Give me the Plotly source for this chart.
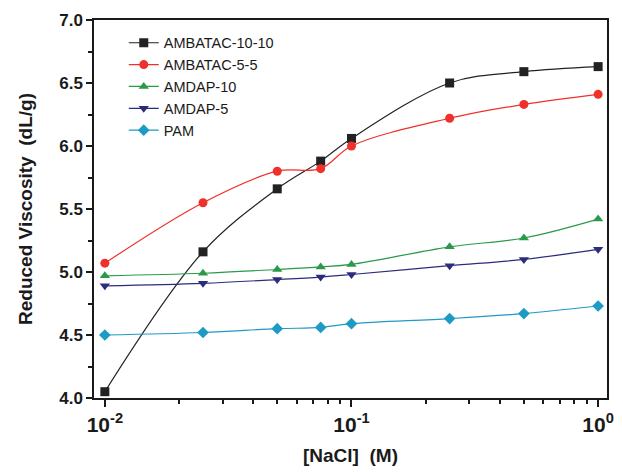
import plotly.graph_objects as go

# NaCl concentration (M)
nacl = [0.01, 0.025, 0.05, 0.075, 0.1, 0.25, 0.5, 1.0]

# Reduced viscosity (dL/g) for each polymer
ambatac_10_10 = [4.05, 5.16, 5.66, 5.88, 6.06, 6.50, 6.59, 6.63]
ambatac_5_5 = [5.07, 5.55, 5.80, 5.82, 6.00, 6.22, 6.33, 6.41]
amdap_10 = [4.97, 4.99, 5.02, 5.04, 5.06, 5.20, 5.27, 5.42]
amdap_5 = [4.89, 4.91, 4.94, 4.96, 4.98, 5.05, 5.10, 5.18]
pam = [4.50, 4.52, 4.55, 4.56, 4.59, 4.63, 4.67, 4.73]

series = [
    ("AMBATAC-10-10", ambatac_10_10, "#222222", "square"),
    ("AMBATAC-5-5", ambatac_5_5, "#f0302a", "circle"),
    ("AMDAP-10", amdap_10, "#2a9a4a", "triangle-up"),
    ("AMDAP-5", amdap_5, "#2c2c7c", "triangle-down"),
    ("PAM", pam, "#1f9ac4", "diamond"),
]

fig = go.Figure()
for name, vals, color, symbol in series:
    fig.add_trace(go.Scatter(
        x=nacl, y=vals, name=name, mode="lines+markers",
        line=dict(color=color, width=1.2, shape="spline", smoothing=1.0),
        marker=dict(symbol=symbol, size=9, color=color),
    ))

font_family = "Liberation Sans, Arial, sans-serif"
axis_font = dict(family=font_family, size=17, color="#1a1a1a")
title_font = dict(family=font_family, size=19, color="#1a1a1a")

minor_x = [k * 10 ** e for e in (-2, -1) for k in range(2, 10)]

fig.update_xaxes(
    type="log", range=[-2.044, 0.036],
    showline=True, linecolor="#1a1a1a", linewidth=1.5, mirror=True,
    showgrid=False, zeroline=False,
    ticks="outside", ticklen=7, tickwidth=1.5, tickcolor="#1a1a1a",
    tickvals=[0.01, 0.1, 1],
    ticktext=["<b>10<sup>-2</sup></b>", "<b>10<sup>-1</sup></b>", "<b>10<sup>0</sup></b>"],
    tickfont=dict(family=font_family, size=21, color="#1a1a1a"),
    minor=dict(tickvals=minor_x, ticks="outside", ticklen=4, tickwidth=1.5,
               tickcolor="#1a1a1a", showgrid=False),
    title=dict(text="<b>[NaCl]  (M)</b>", font=title_font, standoff=14),
)

fig.update_yaxes(
    range=[4.0, 7.0],
    showline=True, linecolor="#1a1a1a", linewidth=1.5, mirror=True,
    showgrid=False, zeroline=False,
    ticks="outside", ticklen=6, tickwidth=1.5, tickcolor="#1a1a1a",
    tickvals=[4.0, 4.5, 5.0, 5.5, 6.0, 6.5, 7.0],
    ticktext=["<b>%.1f</b>" % v for v in [4.0, 4.5, 5.0, 5.5, 6.0, 6.5, 7.0]],
    tickfont=axis_font,
    minor=dict(tickvals=[4.25, 4.75, 5.25, 5.75, 6.25, 6.75], ticks="outside",
               ticklen=4, tickwidth=1.5, tickcolor="#1a1a1a", showgrid=False),
    title=dict(text="<b>Reduced Viscosity  (dL/g)</b>", font=title_font, standoff=22),
)

fig.update_layout(
    width=623, height=472,
    margin=dict(l=94, r=9, t=20, b=72),
    paper_bgcolor="white", plot_bgcolor="white",
    legend=dict(
        x=0.058, y=0.982, xanchor="left", yanchor="top",
        bgcolor="rgba(0,0,0,0)",
        font=dict(family=font_family, size=14.5, color="#1a1a1a"),
        tracegroupgap=0,
    ),
    showlegend=True,
)

fig.write_html("out.html")
